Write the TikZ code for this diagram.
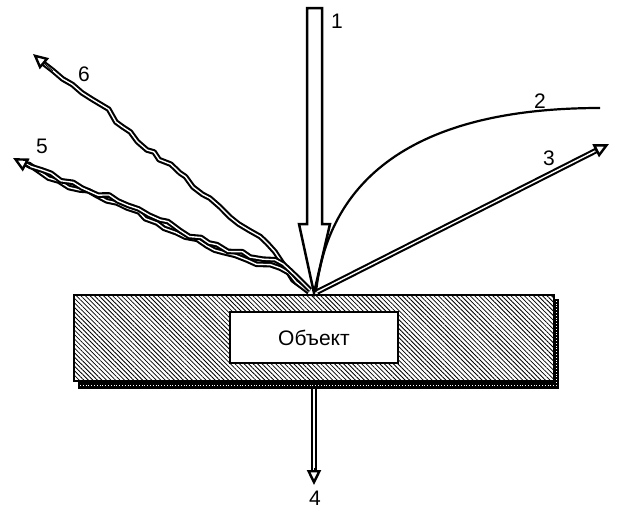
\documentclass[tikz,border=0pt]{standalone}
\usepackage{fontspec}
\setmainfont{Liberation Sans}
\usetikzlibrary{arrows.meta,patterns.meta,decorations.pathmorphing,calc}
\begin{document}
\begin{tikzpicture}[x=1pt,y=-1pt,
  lbl/.style={font=\fontsize{21}{21}\selectfont, inner sep=0pt},
  dbl/.style={draw=black, line width=2.1pt, double=white, double distance=1.4pt},
  wavy/.style={dbl, line join=round, decorate, decoration={random steps, segment length=11pt, amplitude=2.8pt}},
  headtip/.style={line width=0.8pt, -{Triangle[open, length=15pt, width=14pt, line width=2.4pt]}},
]
\useasboundingbox (0,0) rectangle (621,509);
\pgfmathsetseed{11}
% object plate with shadow
\fill[black] (78,299) rectangle (559,389);
\draw[white, dotted, line width=0.8pt] (80,385.5) -- (556,385.5) -- (556,301);
\fill[white] (74,295) rectangle (554,381);
\fill[pattern={Lines[angle=-45, distance=3.2pt, line width=0.8pt]}] (74,295) rectangle (554,381);
\draw[line width=2.4pt] (74,295) rectangle (554,381);
\node[draw, line width=2.2pt, fill=white, minimum width=168pt, minimum height=51pt, inner sep=0pt,
      font=\fontsize{21}{21}\selectfont] (obj) at (314,337.5) {Объект};

% impact point
\coordinate (p) at (314,293);

% arrow 1 (incident beam)
\draw[line width=2.5pt, fill=white, line join=miter] (307,8) -- (322,8) -- (322,224) -- (330,224) -- (p) -- (299,224) -- (307,224) -- cycle;
\node[lbl] (l1) at (337,21) {1};

% curve 2
\draw[line width=2.2pt] (316,292) .. controls (329,175) and (420,108) .. (600,108) coordinate (e2);
\node[lbl] (l2) at (540,101) {2};

% arrow 3
\coordinate (t3) at (609,144);
\coordinate (o3) at (317,292);
\coordinate (b3) at ($(t3)!13pt!(o3)$);
\draw[dbl] (o3) -- (b3);
\draw[headtip] ($(t3)!16pt!(o3)$) -- (t3);
\node[lbl] (l3) at (549,158) {3};

% arrow 4
\coordinate (s4) at (314,389);
\coordinate (t4) at (314,485);
\draw[dbl] (s4) -- (314,471);
\draw[headtip] (314,468) -- (t4);
\node[lbl] (l4) at (315,498) {4};

% wavy 6
\coordinate (t6) at (33,54);
\draw[wavy] (309,291) -- (293,280) -- (267,243) -- (220,207) -- (180,173) -- (147,150) -- (100,104) -- (50,68) -- (43,63);
\draw[headtip] (53,71) -- (t6);
\node[lbl] (l6) at (84,74) {6};

% wavy 5 (two strands)
\coordinate (t5) at (13,158);
\draw[wavy] (309,292) -- (296,282) -- (280,268) -- (247,260) -- (207,246) -- (157,223) -- (117,203) -- (80,190) -- (40,172) -- (25,164);
\pgfmathsetseed{5}
\draw[wavy] (310,290) -- (300,280) -- (283,264) -- (250,257) -- (209,243) -- (160,220) -- (118,201) -- (82,188) -- (42,170) -- (26,164);
\draw[headtip] (30,167) -- (t5);
\node[lbl] (l5) at (42,146) {5};
\end{tikzpicture}
\end{document}
